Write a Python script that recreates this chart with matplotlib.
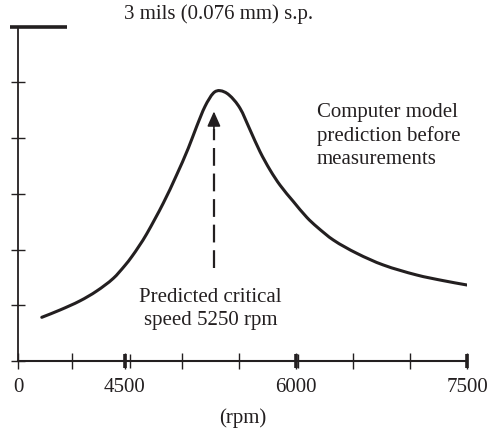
import numpy as np
import matplotlib
matplotlib.use("Agg")
import matplotlib.pyplot as plt
import matplotlib.transforms as mtransforms
from matplotlib.path import Path
from matplotlib.patches import PathPatch

# ---- data ----
rpm = [1000, 1770, 2610, 3310, 4010, 4500, 4560, 4623, 4690, 4836, 4953,
       5055, 5129, 5202, 5275, 5333, 5412, 5509, 5597, 5684, 5772, 5860,
       5976, 6094, 6182, 6327, 6532, 6765, 7058, 7292, 7500]
amp_mils = [0.392, 0.458, 0.540, 0.628, 0.742, 0.858, 0.937, 1.031, 1.140,
            1.417, 1.670, 1.909, 2.106, 2.285, 2.404, 2.426, 2.388, 2.268,
            2.074, 1.879, 1.715, 1.578, 1.432, 1.290, 1.205, 1.086, 0.967,
            0.862, 0.772, 0.721, 0.682]
critical_speed = 5250
arrow_x = 5280
arrow_y = [0.835, 2.24]
x_major = [0, 4500, 6000, 7500]
x_major_labels = ["0", "4500", "6000", "7500"]
x_minor = [2250, 5000, 5500, 6500, 7000]
break_ticks = [4500, 6000, 7500]
y_ticks = [0, 0.5, 1.0, 1.5, 2.0, 2.5]
scale_value = 3.0

ink = "#231f20"
plt.rcParams["font.family"] = ["Liberation Serif", "DejaVu Serif"]
fs = 15

# piecewise-linear axis with a compressed section below 4500 rpm
seg_data = [0, 4500, 6000, 7500]
seg_pos = [0, 107, 278, 449]

def fwd(x):
    return np.interp(x, seg_data, seg_pos)

def inv(p):
    return np.interp(p, seg_pos, seg_data)

def smooth_path(xs, ys):
    """Smooth curve through the points as cubic Bezier segments
    (Hermite tangents computed in the scaled x space)."""
    s = fwd(np.asarray(xs, float))
    y = np.asarray(ys, float)
    n = len(s)
    m = np.empty(n)
    m[0] = (y[1] - y[0]) / (s[1] - s[0])
    m[-1] = (y[-1] - y[-2]) / (s[-1] - s[-2])
    m[1:-1] = (y[2:] - y[:-2]) / (s[2:] - s[:-2])
    verts = [(s[0], y[0])]
    codes = [Path.MOVETO]
    for i in range(n - 1):
        h = s[i + 1] - s[i]
        verts += [(s[i] + h / 3, y[i] + m[i] * h / 3),
                  (s[i + 1] - h / 3, y[i + 1] - m[i + 1] * h / 3),
                  (s[i + 1], y[i + 1])]
        codes += [Path.CURVE4] * 3
    V = np.array(verts)
    V[:, 0] = inv(V[:, 0])
    return Path(V, codes)

fig = plt.figure(figsize=(4.88, 4.30), dpi=100)
ax = fig.add_axes([18 / 488, 1 - 361 / 430, 449 / 488, (361 - 26.7) / 430])
ax.set_xscale("function", functions=(fwd, inv))
ax.set_xlim(0, 7500)
ax.set_ylim(0, 3)

ax.add_patch(PathPatch(smooth_path(rpm, amp_mils), fill=False, edgecolor=ink,
                       lw=2.2, capstyle="round", joinstyle="round", zorder=3))

# dashed arrow for the predicted critical speed
ax.plot([arrow_x, arrow_x], [arrow_y[0], 2.08], color=ink, lw=1.6,
        dashes=(8, 3.5), zorder=3)
ax.annotate("", xy=(arrow_x, arrow_y[1]), xytext=(arrow_x, 2.05),
            arrowprops=dict(arrowstyle="-|>,head_length=0.9,head_width=0.4",
                            color=ink, lw=1.2, shrinkA=0, shrinkB=0))

# spines
for s_ in ["top", "right"]:
    ax.spines[s_].set_visible(False)
ax.spines["left"].set_color(ink)
ax.spines["left"].set_linewidth(1.3)
ax.spines["bottom"].set_color(ink)
ax.spines["bottom"].set_linewidth(1.5)

ax.set_xticks(x_major)
ax.set_xticklabels(x_major_labels)
ax.set_xticks(x_minor, minor=True)
ax.tick_params(axis="x", which="both", direction="inout", length=11,
               width=1.0, color=ink, labelsize=fs, labelcolor=ink, pad=7)
ax.set_yticks(y_ticks)
ax.set_yticklabels([])
ax.tick_params(axis="y", which="both", direction="inout", length=10,
               width=1.0, color=ink)

# thick break markers
xtr = ax.get_xaxis_transform()
half = 7 / 334.3
for bx in break_ticks:
    ax.plot([bx, bx], [-half, half], transform=xtr, color=ink, lw=2.6,
            clip_on=False, solid_capstyle="butt", zorder=4)
for bx, off in [(4500, 5), (6000, 2.4)]:
    t2 = mtransforms.offset_copy(xtr, fig=fig, x=off, y=0, units="dots")
    ax.plot([bx, bx], [-half, half], transform=t2, color=ink, lw=1.0,
            clip_on=False, solid_capstyle="butt", zorder=4)

# scale bar at 3 mils
ytr = ax.get_yaxis_transform()
ax.plot([-8 / 449, 49 / 449], [scale_value, scale_value], transform=ytr,
        color=ink, lw=2.6, clip_on=False, solid_capstyle="butt", zorder=4)

ax.text(5320, 3.11, "3 mils (0.076 mm) s.p.", ha="center", va="center",
        fontsize=fs, color=ink, clip_on=False)
ax.text(critical_speed, 0.465, "Predicted critical\nspeed %d rpm" % critical_speed,
        ha="center", va="center", fontsize=fs, color=ink, linespacing=1.26)
ax.text(6181, 2.02, "Computer model\nprediction before\nmeasurements",
        ha="left", va="center", fontsize=fs, color=ink, linespacing=1.26)

ax.set_xlabel("(rpm)", fontsize=fs, color=ink, labelpad=8)

fig.savefig("out.png", dpi=100)
